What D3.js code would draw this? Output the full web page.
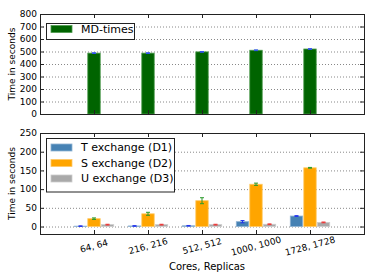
<!DOCTYPE html>
<html>
<head>
<meta charset="utf-8">
<script src="https://cdn.jsdelivr.net/npm/d3@7"></script>
<style>
  body { margin: 0; background: #fff; }
  text { font-family: "DejaVu Sans", sans-serif; fill: #000; }
</style>
</head>
<body>
<div id="chart"></div>
<script>
// categories (cores, replicas)
const categories = ["64, 64", "216, 216", "512, 512", "1000, 1000", "1728, 1728"];

// top panel: MD times
const mdTimes = [487, 487, 497, 510, 520];
const mdErr = [3, 3, 3, 3, 3];

// bottom panel: exchange times
const tExchange = [1, 1.5, 2, 13, 28];
const tErr = [0.8, 0.8, 0.8, 3, 1];
const sExchange = [21, 34, 69, 113, 157];
const sErr = [2, 4, 8, 3, 1];
const uExchange = [5, 5, 5, 6, 11];
const uErr = [1, 1, 1, 1, 1];

const topTicks = [0, 100, 200, 300, 400, 500, 600, 700, 800];
const bottomTicks = [0, 50, 100, 150, 200, 250];

const width = 374, height = 280;
const svg = d3.select("#chart").append("svg")
  .attr("width", width)
  .attr("height", height);

const x = d3.scaleLinear().domain([0, 6]).range([40, 364]);

const yTop = d3.scaleLinear().domain([0, 800]).range([114, 14]);
const yBot = d3.scaleLinear().domain([-20, 250]).range([234, 133]);

const barW = x(0.23) - x(0);
const offset = 0.25;

function panel(y, ticks) {
  const g = svg.append("g");
  // grid
  g.selectAll("line.grid").data(ticks).join("line")
    .attr("x1", x(0)).attr("x2", x(6))
    .attr("y1", d => y(d) + 0.5).attr("y2", d => y(d) + 0.5)
    .attr("stroke", "#888").attr("stroke-dasharray", "1,2");
  // y tick labels
  g.selectAll("text.yt").data(ticks).join("text")
    .attr("x", x(0) - 3).attr("y", d => y(d))
    .attr("dy", "0.35em")
    .attr("text-anchor", "end")
    .style("font-size", "9px")
    .text(d => d);
  return g;
}

function frame(g, y, ticks) {
  const [y0, y1] = y.range();
  // y ticks inward, both sides
  g.selectAll("line.ytl").data(ticks).join("line")
    .attr("x1", x(0)).attr("x2", x(0) + 4)
    .attr("y1", d => y(d) + 0.5).attr("y2", d => y(d) + 0.5)
    .attr("stroke", "#222");
  g.selectAll("line.ytr").data(ticks).join("line")
    .attr("x1", x(6) - 4).attr("x2", x(6))
    .attr("y1", d => y(d) + 0.5).attr("y2", d => y(d) + 0.5)
    .attr("stroke", "#222");
  // x ticks inward, top and bottom
  const xi = categories.map((c, i) => i + 1);
  g.selectAll("line.xtb").data(xi).join("line")
    .attr("x1", d => x(d) + 0.5).attr("x2", d => x(d) + 0.5)
    .attr("y1", y0).attr("y2", y0 - 4)
    .attr("stroke", "#222");
  g.selectAll("line.xtt").data(xi).join("line")
    .attr("x1", d => x(d) + 0.5).attr("x2", d => x(d) + 0.5)
    .attr("y1", y1).attr("y2", y1 + 4)
    .attr("stroke", "#222");
  g.append("rect")
    .attr("x", x(0) + 0.5).attr("y", y1 + 0.5)
    .attr("width", x(6) - x(0)).attr("height", y0 - y1)
    .attr("fill", "none").attr("stroke", "#222");
}

function bars(g, y, values, errs, off, color, edge, errColor) {
  g.selectAll(null).data(values).join("rect")
    .attr("x", (d, i) => x(i + 1 + off) - barW / 2)
    .attr("y", d => y(d))
    .attr("width", barW)
    .attr("height", d => y(0) - y(d))
    .attr("fill", color)
    .attr("stroke", edge).attr("stroke-width", 0.8);
  const eg = g.append("g").attr("stroke", errColor).attr("stroke-width", 1);
  values.forEach((v, i) => {
    const cx = x(i + 1 + off);
    const e = errs[i];
    eg.append("line").attr("x1", cx).attr("x2", cx)
      .attr("y1", y(v - e)).attr("y2", y(v + e));
    eg.append("line").attr("x1", cx - 2).attr("x2", cx + 2)
      .attr("y1", y(v + e)).attr("y2", y(v + e));
    eg.append("line").attr("x1", cx - 2).attr("x2", cx + 2)
      .attr("y1", y(v - e)).attr("y2", y(v - e));
  });
}

// top panel
const gTop = panel(yTop, topTicks);
bars(gTop, yTop, mdTimes, mdErr, 0, "#006400", "#4c9a4c", "#3355ee");
frame(gTop, yTop, topTicks);

// bottom panel
const gBot = panel(yBot, bottomTicks);
bars(gBot, yBot, tExchange, tErr, -offset, "#4682b4", "#8fb3d3", "#2233ee");
bars(gBot, yBot, sExchange, sErr, 0, "#ffa500", "#ffc966", "#2a9a2a");
bars(gBot, yBot, uExchange, uErr, offset, "#a9a9a9", "#cccccc", "#ee3333");
frame(gBot, yBot, bottomTicks);

// x tick labels
svg.append("g").selectAll("text").data(categories).join("text")
  .attr("transform", (d, i) => `translate(${x(i + 1)},${246}) rotate(-15)`)
  .attr("text-anchor", "middle")
  .attr("dy", "0.35em")
  .style("font-size", "9px")
  .text(d => d);

svg.append("text")
  .attr("x", 207).attr("y", 270)
  .attr("text-anchor", "middle")
  .style("font-size", "10px")
  .text("Cores, Replicas");

// y axis labels
[yTop, yBot].forEach(y => {
  const [y0, y1] = y.range();
  svg.append("text")
    .attr("transform", `translate(15,${(y0 + y1) / 2}) rotate(-90)`)
    .attr("text-anchor", "middle")
    .style("font-size", "9px")
    .text("Time in seconds");
});

// legends
function legend(x0, y0, w, h, first, entries) {
  const g = svg.append("g");
  g.append("rect")
    .attr("x", x0 + 0.5).attr("y", y0 + 0.5)
    .attr("width", w).attr("height", h)
    .attr("fill", "#fff").attr("stroke", "#222");
  entries.forEach((e, i) => {
    const cy = y0 + first + i * 15.5;
    g.append("rect")
      .attr("x", x0 + 5).attr("y", cy - 3.5)
      .attr("width", 21).attr("height", 7)
      .attr("fill", e[1]).attr("stroke", e[2]).attr("stroke-width", 0.8);
    g.append("text")
      .attr("x", x0 + 35).attr("y", cy)
      .attr("dy", "0.35em")
      .style("font-size", "11px")
      .text(e[0]);
  });
}

legend(46, 23, 88, 16, 6, [["MD-times", "#006400", "#4c9a4c"]]);
legend(46, 138, 128, 53.5, 9.5, [
  ["T exchange (D1)", "#4682b4", "#8fb3d3"],
  ["S exchange (D2)", "#ffa500", "#ffc966"],
  ["U exchange (D3)", "#a9a9a9", "#cccccc"]
]);
</script>
</body>
</html>
